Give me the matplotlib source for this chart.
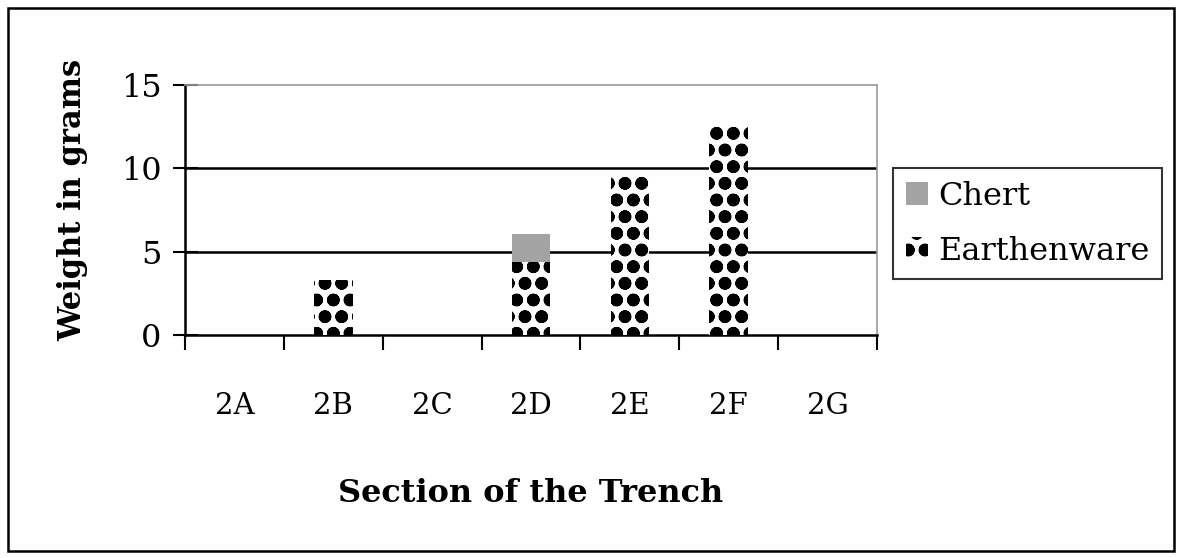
import numpy as np
import matplotlib
matplotlib.use('Agg')
import matplotlib.pyplot as plt
from matplotlib.patches import Rectangle

# 数据
sections = ['2A', '2B', '2C', '2D', '2E', '2F', '2G']
earthenware = [0, 3.3, 0, 4.4, 9.7, 12.7, 0]
chert = [0, 0, 0, 1.65, 0, 0, 0]

plt.rcParams['font.family'] = ['DejaVu Serif']
plt.rcParams['hatch.linewidth'] = 4.4

fig = plt.figure(figsize=(11.83, 5.58), dpi=100)
ax = fig.add_axes([0.1564, 0.3996, 0.7413 - 0.1564, 0.8477 - 0.3996])

x = np.arange(len(sections))
w = 0.39
b1 = ax.bar(x, earthenware, width=w, color='white', edgecolor='black',
            hatch='o.', linewidth=0, label='Earthenware', zorder=3)
b2 = ax.bar(x, chert, width=w, bottom=earthenware, color='#a3a3a3',
            linewidth=0, label='Chert', zorder=3)

ax.set_xlim(-0.5, len(sections) - 0.5)
ax.set_ylim(0, 15)
ax.set_yticks([0, 5, 10, 15])
for yv in [5, 10]:
    ax.axhline(yv, color='black', linewidth=1.8, zorder=1)

# x轴：分类标签居中，刻度线放在分类之间
ax.set_xticks(x)
ax.set_xticklabels(sections, fontsize=21)
ax.set_xticks(np.arange(-0.5, len(sections)), minor=True)
ax.tick_params(axis='x', which='major', length=0, pad=41)
ax.tick_params(axis='x', which='minor', direction='out', length=11, width=1.5)
ax.tick_params(axis='y', direction='inout', length=18, width=1.5, labelsize=23, pad=8)

for s in ['left', 'bottom']:
    ax.spines[s].set_linewidth(1.8)
    ax.spines[s].set_color('black')
for s in ['top', 'right']:
    ax.spines[s].set_linewidth(1.2)
    ax.spines[s].set_color('#9a9a9a')

ax.set_ylabel('Weight in grams', fontsize=22, fontweight='bold')
ax.yaxis.set_label_coords(-0.14, 0.54)
ax.set_xlabel('Section of the Trench', fontsize=23, fontweight='bold', labelpad=42)

leg = fig.legend([b2, b1], ['Chert', 'Earthenware'], loc='upper left',
                 bbox_to_anchor=(0.755, 0.699), fontsize=23, frameon=True,
                 fancybox=False, edgecolor='black', handlelength=0.7,
                 handleheight=0.7, handletextpad=0.3, borderpad=0.4,
                 labelspacing=0.75, borderaxespad=0)
leg.get_frame().set_linewidth(1.5)

# 外框
fig.patches.append(Rectangle((0.007, 0.012), 0.985, 0.973, transform=fig.transFigure,
                             fill=False, edgecolor='black', linewidth=1.8))

fig.savefig('out.png', dpi=100)
